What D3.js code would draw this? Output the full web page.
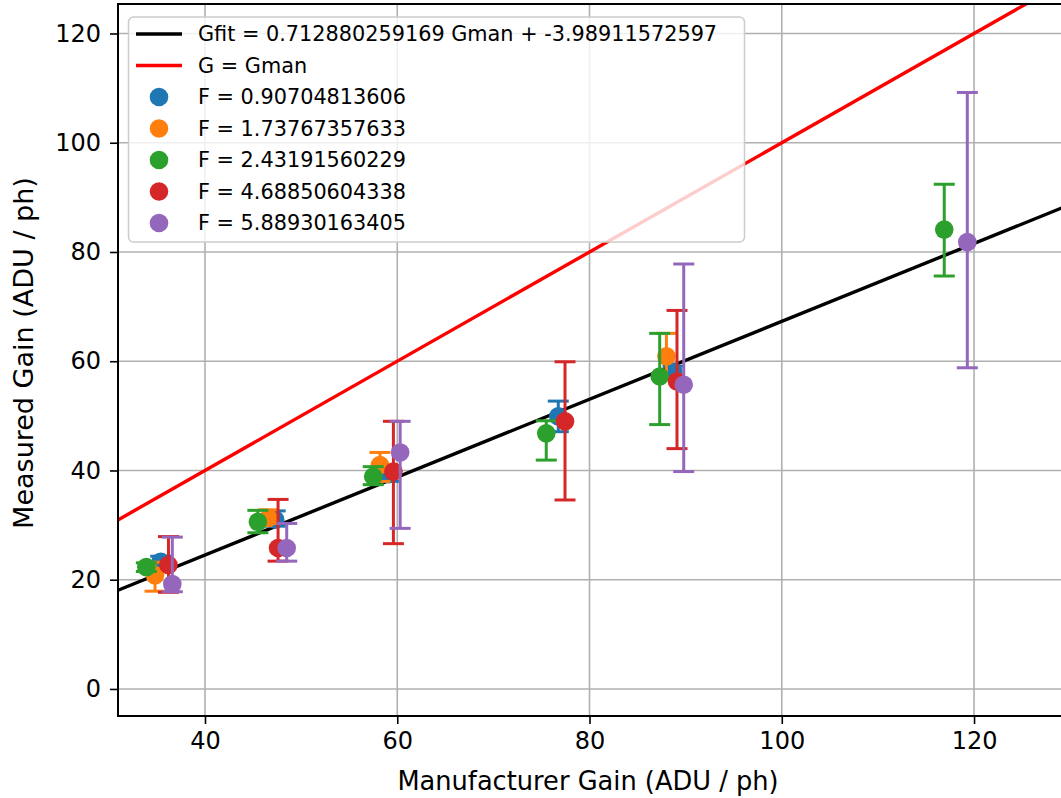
<!DOCTYPE html>
<html><head><meta charset="utf-8">
<script src="https://cdn.jsdelivr.net/npm/d3@7"></script>
<style>body{margin:0;background:#fff}svg{display:block;font-family:"DejaVu Sans",sans-serif}</style>
</head><body>
<svg id="c" width="1061" height="798"></svg>
<script>
// ---- data ----
const xTicks = [40, 60, 80, 100, 120];
const yTicks = [0, 20, 40, 60, 80, 100, 120];
const fitSlope = 0.712880259169, fitIntercept = -3.98911572597;
const seriesNames = ["F = 0.90704813606","F = 1.73767357633","F = 2.43191560229","F = 4.68850604338","F = 5.88930163405"];
const seriesColors = ["#1f77b4","#ff7f0e","#2ca02c","#d62728","#9467bd"];
const blueX = [35.4, 47.3, 59.1, 76.75, 88.7];
const blueY = [23.3, 31.0, 39.3, 49.9, 58.1];
const blueLo = [1.0, 1.2, 1.3, 2.8, 1.0];
const blueHi = [1.0, 1.6, 1.3, 2.8, 1.0];
const orangeX = [34.8, 46.6, 58.2, 88.0];
const orangeY = [20.8, 31.3, 41.0, 60.9];
const orangeLo = [2.9, 1.0, 3.0, 4.1];
const orangeHi = [2.4, 1.5, 2.3, 4.2];
const greenX = [33.9, 45.5, 57.5, 75.5, 87.3, 116.9];
const greenY = [22.3, 30.6, 38.9, 46.8, 57.2, 84.1];
const greenLo = [0.8, 2.0, 1.5, 4.9, 8.8, 8.5];
const greenHi = [0.8, 2.1, 1.8, 2.3, 7.9, 8.3];
const redX = [36.2, 47.6, 59.6, 77.45, 89.1];
const redY = [22.7, 25.8, 39.8, 49.0, 56.3];
const redLo = [5.0, 2.4, 13.2, 14.4, 12.3];
const redHi = [5.2, 8.9, 9.2, 10.9, 13.0];
const purpleX = [36.6, 48.5, 60.3, 89.8, 119.3];
const purpleY = [19.2, 25.8, 43.3, 55.7, 81.8];
const purpleLo = [1.4, 2.4, 13.9, 15.9, 23.0];
const purpleHi = [8.6, 4.5, 5.7, 22.1, 27.4];

const series = [
  [blueX, blueY, blueLo, blueHi],
  [orangeX, orangeY, orangeLo, orangeHi],
  [greenX, greenY, greenLo, greenHi],
  [redX, redY, redLo, redHi],
  [purpleX, purpleY, purpleLo, purpleHi]
].map((s, i) => ({name: seriesNames[i], color: seriesColors[i],
  pts: s[0].map((x, j) => ({x, y: s[1][j], lo: s[2][j], hi: s[3][j]}))}));

// ---- layout ----
const L = 118, R = 1062, T = 4, B = 716;
const x = d3.scaleLinear().domain([30.95, 129.15]).range([L, R]);
const y = d3.scaleLinear().domain([-4.95, 125.4]).range([B, T]);
const svg = d3.select("#c");

svg.append("defs").append("clipPath").attr("id","clip")
  .append("rect").attr("x",L).attr("y",T).attr("width",R-L).attr("height",B-T);

// grid
const grid = svg.append("g");
grid.selectAll(".gx").data(xTicks).join("line")
  .attr("x1", d=>x(d)).attr("x2", d=>x(d)).attr("y1", T).attr("y2", B)
  .attr("stroke","#b0b0b0").attr("stroke-width",1.6);
grid.selectAll(".gy").data(yTicks).join("line")
  .attr("y1", d=>y(d)).attr("y2", d=>y(d)).attr("x1", L).attr("x2", R)
  .attr("stroke","#b0b0b0").attr("stroke-width",1.6);

const plot = svg.append("g").attr("clip-path","url(#clip)");
const xd = x.domain();
const line = d3.line().x(d=>x(d[0])).y(d=>y(d[1]));
plot.append("path").attr("d", line(xd.map(v=>[v, fitSlope*v+fitIntercept])))
  .attr("stroke","#000").attr("stroke-width",3.4).attr("fill","none");
plot.append("path").attr("d", line(xd.map(v=>[v, v])))
  .attr("stroke","#ff0000").attr("stroke-width",3.4).attr("fill","none");

series.forEach(s => {
  const g = plot.append("g");
  s.pts.forEach(p => {
    g.append("line").attr("x1",x(p.x)).attr("x2",x(p.x))
      .attr("y1",y(p.y-p.lo)).attr("y2",y(p.y+p.hi))
      .attr("stroke",s.color).attr("stroke-width",3);
    [p.y-p.lo, p.y+p.hi].forEach(v => g.append("line")
      .attr("x1",x(p.x)-10.5).attr("x2",x(p.x)+10.5).attr("y1",y(v)).attr("y2",y(v))
      .attr("stroke",s.color).attr("stroke-width",3));
  });
  g.selectAll("circle").data(s.pts).join("circle")
    .attr("cx",d=>x(d.x)).attr("cy",d=>y(d.y)).attr("r",9.3).attr("fill",s.color);
});

// axes
const xAxis = svg.append("g").attr("transform",`translate(0,${B})`)
  .call(d3.axisBottom(x).tickValues(xTicks).tickSize(8).tickPadding(8).tickFormat(d3.format("d")));
const yAxis = svg.append("g").attr("transform",`translate(${L},0)`)
  .call(d3.axisLeft(y).tickValues(yTicks).tickSize(8).tickPadding(9).tickFormat(d3.format("d")));
[xAxis, yAxis].forEach(a => {
  a.select(".domain").remove();
  a.selectAll("line").attr("stroke","#000").attr("stroke-width",1.6);
  a.selectAll("text").attr("font-family","DejaVu Sans").attr("font-size",24).attr("fill","#000");
});
// spines
svg.append("rect").attr("x",L).attr("y",T).attr("width",R-L).attr("height",B-T)
  .attr("fill","none").attr("stroke","#000").attr("stroke-width",2);

svg.append("text").attr("x",588).attr("y",790).attr("text-anchor","middle")
  .attr("font-size",25.7).text("Manufacturer Gain (ADU / ph)");
svg.append("text").attr("transform",`translate(33,353) rotate(-90)`).attr("text-anchor","middle")
  .attr("font-size",27).text("Measured Gain (ADU / ph)");

// legend
const lg = svg.append("g");
lg.append("rect").attr("x",128.5).attr("y",17).attr("width",616).attr("height",225).attr("rx",5)
  .attr("fill","#fff").attr("fill-opacity",0.8).attr("stroke","#cccccc").attr("stroke-width",1.5);
const rows = [{t:"line",c:"#000",label:`Gfit = ${fitSlope} Gman + ${fitIntercept}`},
              {t:"line",c:"#ff0000",label:"G = Gman"}]
  .concat(series.map(s=>({t:"dot",c:s.color,label:s.name})));
rows.forEach((r,i) => {
  const cy = 34 + i*31.5;
  if (r.t === "line") lg.append("line").attr("x1",136).attr("x2",182).attr("y1",cy).attr("y2",cy)
      .attr("stroke",r.c).attr("stroke-width",3.4);
  else lg.append("circle").attr("cx",159).attr("cy",cy).attr("r",9.3).attr("fill",r.c);
  lg.append("text").attr("x",198).attr("y",cy).attr("dy","0.36em").attr("font-size",20.8).text(r.label);
});
</script>
</body></html>
